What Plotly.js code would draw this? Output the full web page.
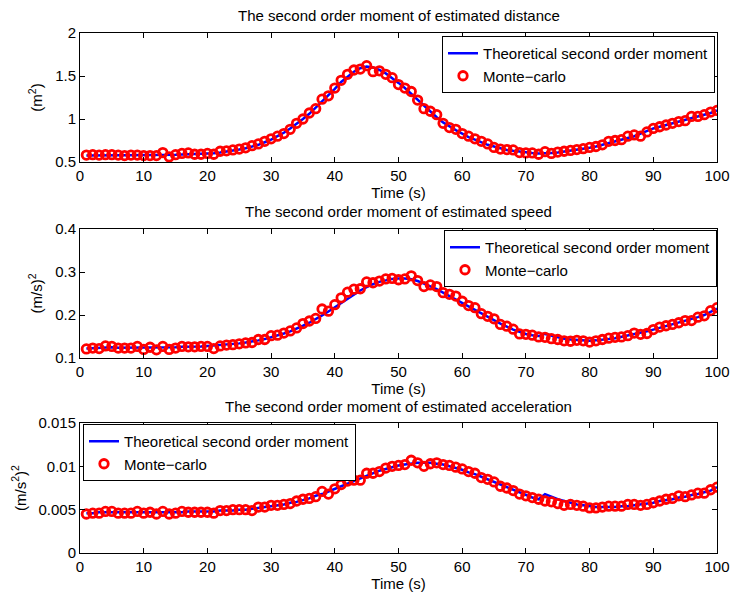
<!DOCTYPE html>
<html>
<head>
<meta charset="utf-8">
<script src="https://cdn.plot.ly/plotly-3.0.1.min.js"></script>
<style>html,body{margin:0;padding:0;background:#fff;}#chart{width:731px;height:594px;}</style>
</head>
<body>
<div id="chart"></div>
<script>
// Time axis
var time = [];
for (var i = 1; i <= 100; i++) time.push(i);

// Panel titles and axis labels
var panelTitles = ["The second order moment of estimated distance",
                   "The second order moment of estimated speed",
                   "The second order moment of estimated acceleration"];
var yLabels = ["(m<sup>2</sup>)", "(m/s)<sup>2</sup>", "(m/s<sup>2</sup>)<sup>2</sup>"];
var xLabel = "Time (s)";
var legendNames = ["Theoretical second order moment", "Monte\u2212carlo"];

// Tick values
var xTicks = [0,10,20,30,40,50,60,70,80,90,100];
var yTicks1 = [0.5,1,1.5,2];
var yTickText1 = ["0.5","1","1.5","2"];
var yTicks2 = [0.1,0.2,0.3,0.4];
var yTickText2 = ["0.1","0.2","0.3","0.4"];
var yTicks3 = [0,0.005,0.01,0.015];
var yTickText3 = ["0","0.005","0.01","0.015"];

// Distance: theoretical and Monte-carlo
var distTheory = [0.575,0.577,0.578,0.579,0.579,0.579,0.578,0.578,0.578,0.578,0.578,0.579,
  0.580,0.582,0.585,0.588,0.590,0.592,0.595,0.598,
  0.603,0.61,0.62,0.63,0.645,0.66,0.68,0.70,0.73,0.76,
  0.80,0.84,0.89,0.94,1.00,1.06,1.13,1.20,1.28,1.35,
  1.43,1.49,1.55,1.59,1.61,1.60,1.57,1.53,1.48,1.42,
  1.36,1.29,1.22,1.15,1.08,1.02,0.96,0.91,0.87,0.83,
  0.79,0.76,0.73,0.70,0.68,0.66,0.64,0.63,0.62,0.61,
  0.605,0.60,0.60,0.605,0.61,0.62,0.63,0.64,0.65,0.665,
  0.68,0.70,0.72,0.74,0.76,0.78,0.80,0.83,0.86,0.89,
  0.91,0.93,0.95,0.97,0.99,1.01,1.03,1.05,1.07,1.10];
var distMC = [0.58,0.585,0.58,0.585,0.585,0.58,0.575,0.58,0.58,0.575,0.575,0.575,
  0.61,0.56,0.585,0.60,0.605,0.59,0.59,0.60,
  0.59,0.625,0.63,0.64,0.65,0.665,0.69,0.71,0.74,0.77,
  0.80,0.83,0.88,0.95,1.00,1.07,1.12,1.23,1.27,1.36,
  1.45,1.52,1.57,1.58,1.62,1.55,1.56,1.52,1.48,1.40,
  1.36,1.32,1.22,1.12,1.09,1.05,0.95,0.90,0.88,0.83,
  0.80,0.77,0.74,0.71,0.67,0.65,0.645,0.64,0.61,0.605,
  0.605,0.59,0.62,0.60,0.615,0.625,0.635,0.645,0.655,0.67,
  0.68,0.70,0.74,0.75,0.76,0.80,0.815,0.80,0.85,0.89,
  0.91,0.93,0.95,0.97,0.98,1.03,1.03,1.05,1.08,1.10];

// Speed
var speedTheory = [0.122,0.123,0.124,0.125,0.125,0.124,0.124,0.124,0.124,0.124,
  0.124,0.124,0.124,0.125,0.125,0.126,0.126,0.127,0.127,0.128,
  0.129,0.130,0.131,0.133,0.134,0.136,0.138,0.141,0.144,0.148,
  0.152,0.157,0.162,0.168,0.175,0.182,0.19,0.199,0.208,0.218,
  0.228,0.238,0.248,0.257,0.265,0.272,0.277,0.281,0.284,0.285,
  0.285,0.283,0.279,0.273,0.267,0.26,0.252,0.244,0.236,0.228,
  0.219,0.211,0.203,0.195,0.187,0.18,0.173,0.166,0.161,0.156,
  0.153,0.151,0.156,0.152,0.148,0.145,0.143,0.142,0.141,0.14,
  0.141,0.142,0.144,0.146,0.149,0.152,0.155,0.158,0.162,0.166,
  0.17,0.174,0.178,0.182,0.186,0.19,0.195,0.2,0.207,0.215];
var speedMC = [0.121,0.123,0.122,0.128,0.127,0.123,0.123,0.123,0.127,0.12,
  0.125,0.119,0.127,0.12,0.123,0.127,0.126,0.126,0.127,0.127,
  0.122,0.128,0.13,0.131,0.133,0.135,0.136,0.143,0.143,0.152,
  0.153,0.158,0.163,0.17,0.18,0.186,0.192,0.214,0.209,0.224,
  0.24,0.253,0.26,0.261,0.277,0.275,0.279,0.284,0.285,0.282,
  0.284,0.291,0.28,0.266,0.27,0.266,0.252,0.248,0.244,0.232,
  0.222,0.217,0.203,0.197,0.191,0.178,0.174,0.167,0.156,0.155,
  0.153,0.149,0.148,0.145,0.143,0.14,0.139,0.141,0.14,0.137,
  0.14,0.143,0.146,0.148,0.149,0.152,0.158,0.155,0.157,0.166,
  0.172,0.175,0.178,0.182,0.187,0.187,0.195,0.198,0.21,0.217];

// Acceleration
var accTheory = [0.0046,0.0046,0.0047,0.0047,0.0047,0.0047,0.0047,0.0047,0.0047,0.0047,
  0.0047,0.0047,0.0047,0.0047,0.0047,0.0047,0.0048,0.0048,0.0048,0.0048,
  0.0048,0.0049,0.0049,0.0049,0.005,0.005,0.0051,0.0052,0.0053,0.0054,
  0.0055,0.0056,0.0058,0.0059,0.0061,0.0063,0.0066,0.0068,0.0071,0.0074,
  0.0077,0.008,0.0083,0.0086,0.0089,0.0092,0.0095,0.0097,0.0099,0.0101,
  0.0102,0.0103,0.0104,0.0104,0.0104,0.0103,0.0102,0.0100,0.0098,0.0096,
  0.0093,0.0091,0.0088,0.0085,0.0082,0.0079,0.0076,0.0073,0.0070,0.0067,
  0.0064,0.0062,0.0068,0.0065,0.0062,0.006,0.0058,0.0056,0.0055,0.0054,
  0.0053,0.0053,0.0053,0.0053,0.0054,0.0054,0.0055,0.0056,0.0057,0.0058,
  0.006,0.0061,0.0062,0.0064,0.0065,0.0067,0.0068,0.007,0.0072,0.0076];
var accMC = [0.0045,0.0046,0.0046,0.0048,0.0048,0.0046,0.0046,0.0046,0.0048,0.0046,
  0.0047,0.0045,0.0048,0.0045,0.0046,0.0048,0.0047,0.0047,0.0047,0.0047,
  0.0046,0.0049,0.0049,0.005,0.005,0.005,0.0049,0.0053,0.0053,0.0055,
  0.0055,0.0056,0.0057,0.006,0.0062,0.0063,0.0065,0.0071,0.0068,0.0074,
  0.0079,0.0083,0.0084,0.0084,0.0092,0.0092,0.0094,0.0098,0.01,0.0101,
  0.0102,0.0107,0.0104,0.01,0.0103,0.0104,0.0102,0.0101,0.0099,0.0097,
  0.0094,0.0092,0.0087,0.0085,0.0082,0.0077,0.0075,0.0072,0.0068,0.0066,
  0.0064,0.0062,0.006,0.0059,0.0057,0.0055,0.0056,0.0055,0.0054,0.0052,
  0.0052,0.0053,0.0054,0.0054,0.0054,0.0056,0.0056,0.0055,0.0056,0.0058,
  0.006,0.0062,0.0063,0.0066,0.0065,0.0067,0.0069,0.0069,0.0073,0.0076];

var FONT = "Liberation Sans, Arial, Helvetica, sans-serif";
var FS = 15;
var H = 594;
function py(p){ return 1 - p / H; }

var theory = [distTheory, speedTheory, accTheory];
var mc = [distMC, speedMC, accMC];
var axSuffix = ["", "2", "3"];
var legendIds = ["legend", "legend2", "legend3"];

var traces = [];
for (var k = 0; k < 3; k++) {
  traces.push({
    x: time, y: theory[k], type: "scatter", mode: "lines",
    name: legendNames[0], xaxis: "x" + axSuffix[k], yaxis: "y" + axSuffix[k],
    legend: legendIds[k],
    line: {color: "#0000ff", width: 2.5}
  });
  traces.push({
    x: time, y: mc[k], type: "scatter", mode: "markers",
    name: legendNames[1], xaxis: "x" + axSuffix[k], yaxis: "y" + axSuffix[k],
    legend: legendIds[k],
    marker: {symbol: "circle-open", size: 8.5, color: "#ff0000", line: {color: "#ff0000", width: 2.8}}
  });
}

function xax(anchor) {
  return {
    anchor: anchor, domain: [0, 1], range: [0, 100],
    tickvals: xTicks, ticks: "inside", ticklen: 5, tickcolor: "#000",
    showline: true, linecolor: "#000", linewidth: 1, mirror: "ticks",
    showgrid: false, zeroline: false,
    tickfont: {family: FONT, size: FS, color: "#000"},
    title: {text: xLabel, font: {family: FONT, size: FS, color: "#000"}, standoff: 3}
  };
}
function yax(anchor, dom, rng, tv, tt, label) {
  return {
    anchor: anchor, domain: dom, range: rng,
    tickvals: tv, ticktext: tt, ticks: "inside", ticklen: 5, tickcolor: "#000",
    showline: true, linecolor: "#000", linewidth: 1, mirror: "ticks",
    showgrid: false, zeroline: false,
    tickfont: {family: FONT, size: FS, color: "#000"},
    title: {text: label, font: {family: FONT, size: FS, color: "#000"}, standoff: 8}
  };
}
function leg(x, y, xanchor) {
  return {
    x: x, y: y, xanchor: xanchor, yanchor: "top", xref: "paper", yref: "paper",
    bgcolor: "#fff", bordercolor: "#000", borderwidth: 1,
    font: {family: FONT, size: FS, color: "#000"},
    itemwidth: 30, tracegroupgap: 0
  };
}

var L = 80, R = 14;
function pxX(p){ return (p - L) / (731 - L - R); }

var layout = {
  width: 731, height: H,
  margin: {l: L, r: R, t: 0, b: 0},
  paper_bgcolor: "#fff", plot_bgcolor: "#fff",
  font: {family: FONT, size: FS, color: "#000"},
  xaxis: xax("y"),
  yaxis: yax("x", [py(162), py(33)], [0.5, 2], yTicks1, yTickText1, yLabels[0]),
  xaxis2: xax("y2"),
  yaxis2: yax("x2", [py(358), py(229)], [0.1, 0.4], yTicks2, yTickText2, yLabels[1]),
  xaxis3: xax("y3"),
  yaxis3: yax("x3", [py(553), py(423)], [0, 0.015], yTicks3, yTickText3, yLabels[2]),
  legend: leg(pxX(715), py(36), "right"),
  legend2: leg(pxX(717), py(230), "right"),
  legend3: leg(pxX(83), py(424), "left"),
  annotations: [
    {text: panelTitles[0], xref: "paper", yref: "paper", x: 0.5, y: py(15), xanchor: "center", yanchor: "middle", showarrow: false, font: {family: FONT, size: FS, color: "#000"}},
    {text: panelTitles[1], xref: "paper", yref: "paper", x: 0.5, y: py(211), xanchor: "center", yanchor: "middle", showarrow: false, font: {family: FONT, size: FS, color: "#000"}},
    {text: panelTitles[2], xref: "paper", yref: "paper", x: 0.5, y: py(406), xanchor: "center", yanchor: "middle", showarrow: false, font: {family: FONT, size: FS, color: "#000"}}
  ],
  showlegend: true
};

Plotly.newPlot("chart", traces, layout, {displayModeBar: false, staticPlot: true});
</script>
</body>
</html>
